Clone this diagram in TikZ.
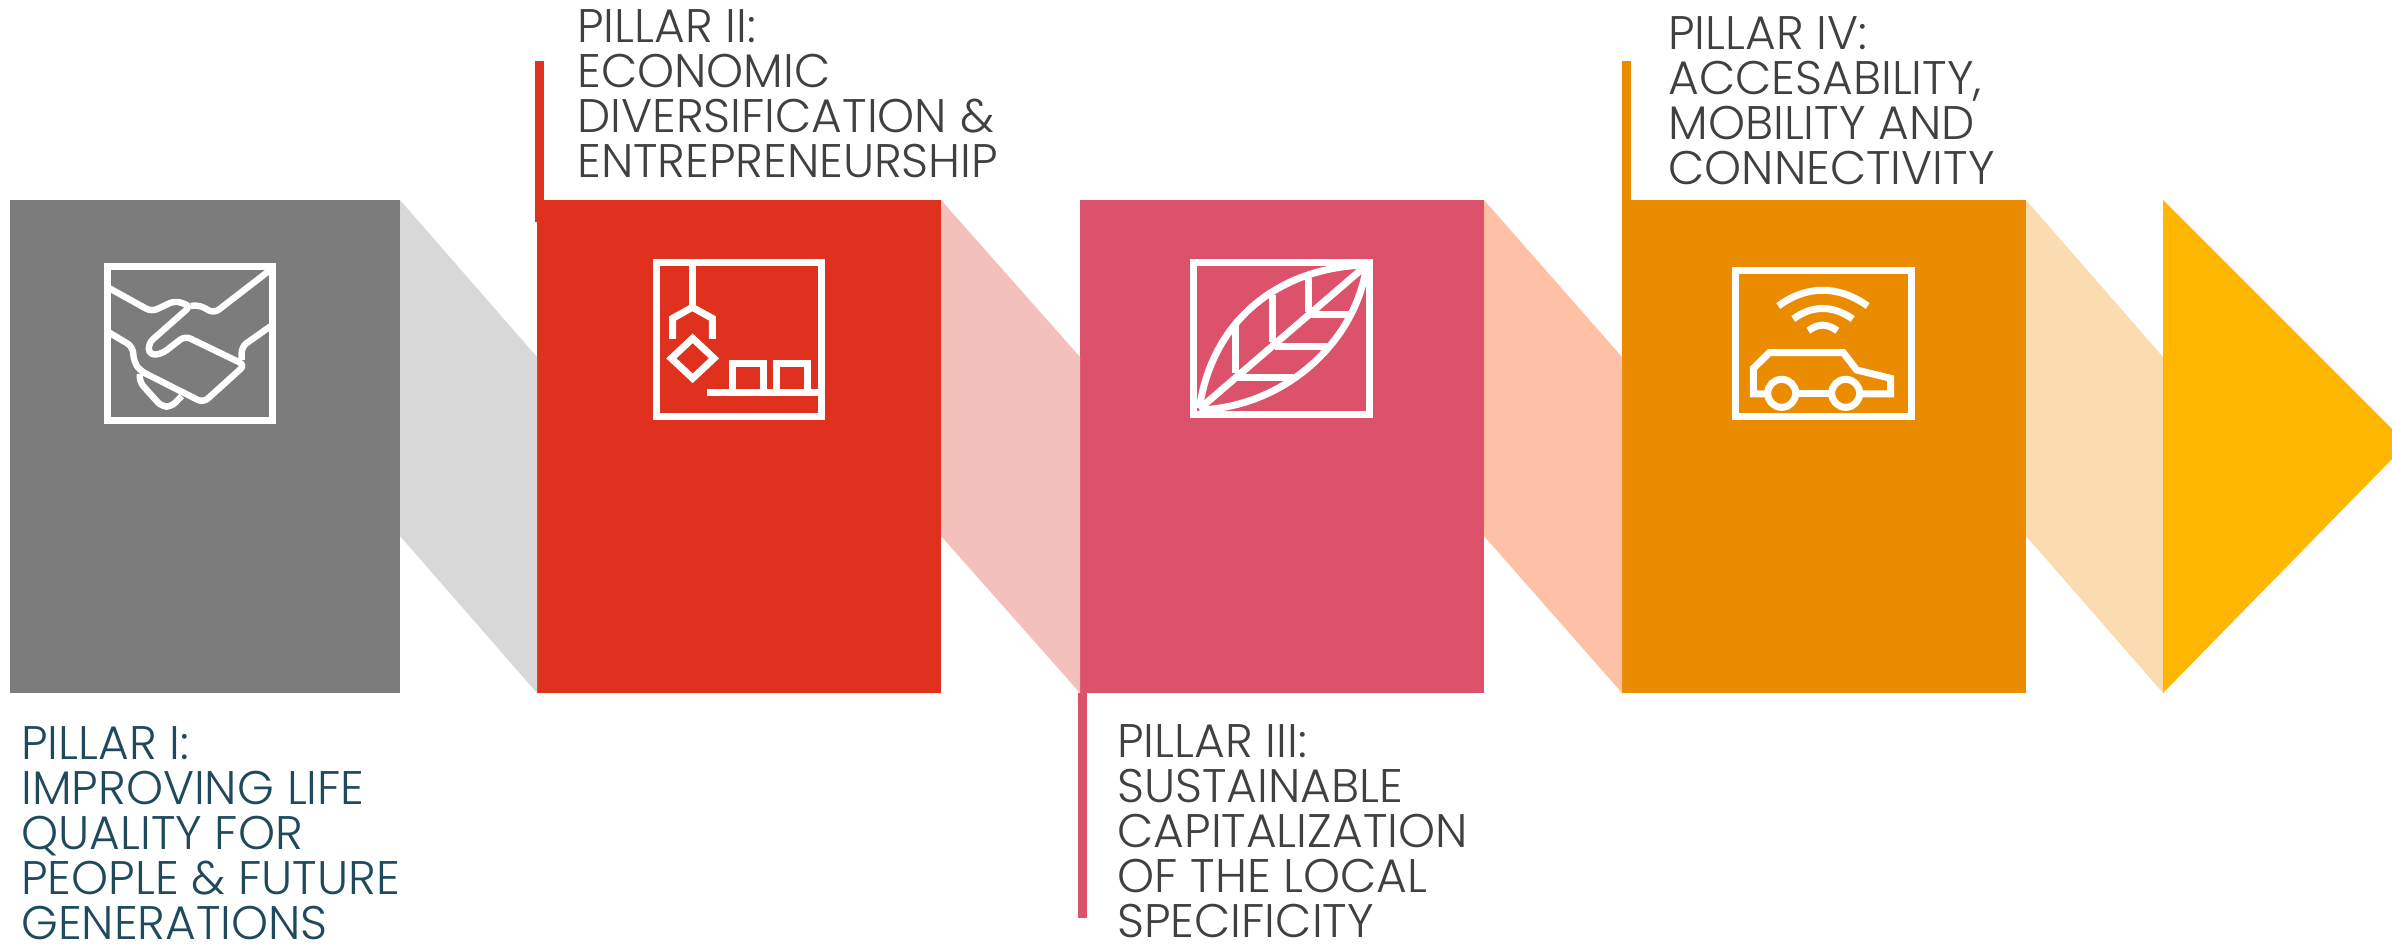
\documentclass[tikz,border=0pt]{standalone}
\usepackage{fontspec}
\usepackage{tikz}
\usetikzlibrary{positioning,calc}
\setmainfont{Poppins}[UprightFont=* Light]
\definecolor{pgray}{HTML}{7C7C7C}
\definecolor{pred}{HTML}{E0301E}
\definecolor{ppink}{HTML}{DC526B}
\definecolor{porange}{HTML}{EB8C00}
\definecolor{pyellow}{HTML}{FFB600}
\definecolor{lgray}{HTML}{D8D8D8}
\definecolor{lred}{HTML}{F4C0BB}
\definecolor{lpink}{HTML}{FEC1A6}
\definecolor{lorange}{HTML}{FBDCB0}
\definecolor{darkteal}{HTML}{1F4A5E}
\definecolor{darktext}{HTML}{404040}

\begin{document}
\begin{tikzpicture}[x=0.5pt,y=-0.5pt]
\tikzstyle{pillarbox}=[rectangle,inner sep=0pt,outer sep=0pt,minimum width=202pt,minimum height=246.5pt]
\tikzstyle{pillartext}=[anchor=base west,inner sep=0pt,align=left,text=darktext,font=\fontsize{23.55}{22.5}\selectfont]
\tikzstyle{tickline}=[line width=4.5pt]
\tikzstyle{iconline}=[draw=white,line width=3.5pt,line join=miter]
\tikzstyle{iconthin}=[draw=white,line width=3.2pt,rounded corners=3pt]
\useasboundingbox (0,0) rectangle (2392,943);

% boxes
\node[pillarbox,fill=pgray,anchor=north west,minimum width=195pt] (box1) at (10,200) {};
\node[pillarbox,fill=pred,right=68.5pt of box1] (box2) {};
\node[pillarbox,fill=ppink,right=69.5pt of box2] (box3) {};
\node[pillarbox,fill=porange,right=69pt of box3] (box4) {};
\coordinate[right=68.5pt of box4.north east] (headtop);
\coordinate[right=68.5pt of box4.south east] (headbot);

% links
\fill[lgray] (box1.north east) -- ($(box2.north west)+(0,157)$) -- (box2.south west) -- ($(box1.north east)+(0,336)$) -- cycle;
\fill[lred] (box2.north east) -- ($(box3.north west)+(0,157)$) -- (box3.south west) -- ($(box2.north east)+(0,336)$) -- cycle;
\fill[lpink] (box3.north east) -- ($(box4.north west)+(0,157)$) -- (box4.south west) -- ($(box3.north east)+(0,336)$) -- cycle;
\fill[lorange] (box4.north east) -- ($(headtop)+(0,157)$) -- (headbot) -- ($(box4.north east)+(0,336)$) -- cycle;
\fill[pyellow] (headtop) -- ($(headtop)+(229,229)$) -- ($(headtop)+(229,259)$) -- (headbot) -- cycle;

% ticks
\coordinate (tick2) at (539.5,61);
\coordinate (tick3) at (1082.5,918);
\coordinate (tick4) at (1626,61);
\draw[tickline,pred] (tick2) -- ++(0,161);
\draw[tickline,ppink] (tick3) -- (tick3 |- box3.south);
\draw[tickline,porange] (tick4) -- (tick4 |- box4.north);

% labels
\node[pillartext,text=darkteal] (label1) at (21,939) {PILLAR I:\\IMPROVING LIFE\\QUALITY FOR\\PEOPLE \& FUTURE\\GENERATIONS};
\node[pillartext] (label2) at (577,177) {PILLAR II:\\ECONOMIC\\DIVERSIFICATION \&\\ENTREPRENEURSHIP};
\node[pillartext] (label3) at (1117,937) {PILLAR III:\\SUSTAINABLE\\CAPITALIZATION\\OF THE LOCAL\\SPECIFICITY};
\node[pillartext] (label4) at (1668,184) {PILLAR IV:\\ACCESABILITY,\\MOBILITY AND\\CONNECTIVITY};

% handshake
\begin{scope}[shift={(60,230)},scale=0.3333]
\draw[iconline] (143,108) rectangle (637,571);
\draw[iconthin] (143,172) -- (275,245) -- (345,212) -- (392,228) -- (265,340) -- (268,375) -- (305,372) -- (375,318) -- (555,405) -- (430,518) -- (240,422) -- (222,395) -- (218,350) -- (143,305);
\draw[iconthin] (392,228) -- (418,225) -- (462,250) -- (637,115);
\draw[iconthin] (637,285) -- (545,350) -- (545,390);
\draw[iconthin] (240,432) -- (238,455) -- (305,530) -- (335,530) -- (365,498);
\end{scope}

% claw and crates
\begin{scope}[shift={(620,230)},scale=0.3333]
\draw[iconline] (109,96) rectangle (606,561);
\draw[iconline] (217,96) -- (217,225);
\draw[iconline] (158,327) -- (158,265) -- (217,232) -- (277,265) -- (277,327);
\draw[iconline] (218,325) -- (282,385) -- (218,445) -- (154,385) -- cycle;
\draw[iconline] (260,487) -- (606,487);
\draw[iconline] (337,487) -- (337,400) -- (430,400) -- (430,487);
\draw[iconline] (470,487) -- (470,400) -- (562,400) -- (562,487);
\end{scope}

% leaf
\begin{scope}[shift={(1170,230)},scale=0.3333]
\draw[iconline] (70,96) rectangle (598,554);
\draw[iconline] (88,535) .. controls (130,250) and (350,110) .. (590,105);
\draw[iconline] (88,540) .. controls (350,530) and (560,330) .. (590,105);
\draw[iconline] (88,537) -- (590,105);
\draw[iconline] (197,430) -- (197,285);
\draw[iconline] (307,335) -- (307,195);
\draw[iconline] (415,245) -- (415,145);
\draw[iconline] (205,443) -- (370,443);
\draw[iconline] (315,349) -- (480,349);
\draw[iconline] (420,255) -- (545,255);
\end{scope}

% car and signal
\begin{scope}[shift={(1700,240)},scale=0.3333]
\draw[iconline] (105,91) rectangle (633,529);
\draw[iconline] (235,198) .. controls (320,135) and (415,135) .. (503,198);
\draw[iconline] (280,237) .. controls (335,195) and (400,195) .. (458,237);
\draw[iconline] (325,272) .. controls (355,250) and (380,250) .. (412,272);
\draw[iconline] (200,462) -- (160,462) -- (160,385) -- (208,338) -- (430,338) -- (470,390) -- (572,415) -- (572,462) -- (485,462);
\draw[iconline] (290,462) -- (392,462);
\draw[iconline] (245,460) circle (42);
\draw[iconline] (437,460) circle (42);
\end{scope}
\end{tikzpicture}
\end{document}
